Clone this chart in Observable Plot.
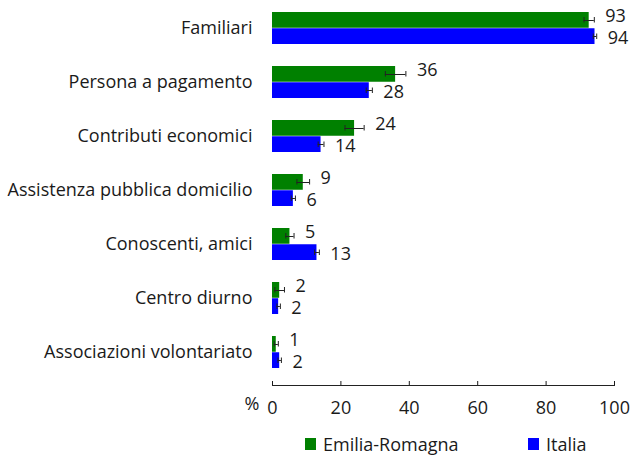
<!DOCTYPE html>
<html>
<head>
<meta charset="utf-8">
<script src="https://cdn.jsdelivr.net/npm/d3@7"></script>
<script src="https://cdn.jsdelivr.net/npm/@observablehq/plot@0.6"></script>
<style>
  html, body { margin: 0; padding: 0; background: #fff; overflow: hidden; }
  #wrap { position: relative; width: 633px; height: 455px; font-family: "Open Sans", sans-serif; color: #1a1a1a; }
  #legend { position: absolute; left: 0; top: 425px; width: 633px; height: 30px; font-size: 18px; line-height: 20px; }
  .item { position: absolute; top: 9px; display: flex; align-items: center; }
  .sw { display: inline-block; width: 11px; height: 12px; margin-right: 7px; }
</style>
</head>
<body>
<div id="wrap">
  <div id="chart"></div>
  <div id="legend"></div>
</div>
<script>
const categories = ["Familiari", "Persona a pagamento", "Contributi economici", "Assistenza pubblica domicilio", "Conoscenti, amici", "Centro diurno", "Associazioni volontariato"];
const seriesNames = ["Emilia-Romagna", "Italia"];
const colors = ["#008000", "#0000ff"];
const valuesER = [92.6, 36.0, 24.0, 9.0, 5.1, 2.1, 1.1];
const valuesIT = [94.3, 28.3, 14.2, 6.1, 13.0, 1.8, 2.1];
const errER = [1.5, 3.0, 2.8, 1.85, 1.2, 1.4, 0.6];
const errIT = [0.5, 0.9, 0.85, 0.6, 0.7, 0.5, 0.5];
const xTicks = [0, 20, 40, 60, 80, 100];

const er = categories.map((c, i) => ({cat: c, v: valuesER[i], e: errER[i]}));
const it = categories.map((c, i) => ({cat: c, v: valuesIT[i], e: errIT[i]}));

const W = 633, H = 425;
const half = 16.25;
const font = "'Open Sans', sans-serif";
const fs = 18;

const chart = Plot.plot({
  width: W,
  height: H,
  marginLeft: 272,
  marginRight: 19,
  marginTop: 0,
  marginBottom: 40,
  style: {fontFamily: font, fontSize: fs + "px", color: "#1a1a1a", background: "#fff"},
  x: {domain: [0, 100], ticks: xTicks},
  y: {domain: categories, paddingInner: 0.4, paddingOuter: 0.25, align: 0.43},
  marks: [
    Plot.barX(er, {x: "v", y: "cat", fill: colors[0], insetBottom: half, insetTop: 0}),
    Plot.barX(it, {x: "v", y: "cat", fill: colors[1], insetTop: half, insetBottom: 0}),
    Plot.ruleY(er, {y: "cat", x1: d => d.v - d.e, x2: d => d.v + d.e, dy: -8, stroke: "#222", strokeWidth: 1}),
    Plot.ruleY(it, {y: "cat", x1: d => d.v - d.e, x2: d => d.v + d.e, dy: 8, stroke: "#222", strokeWidth: 1}),
    Plot.tickX(er, {y: "cat", x: d => d.v - d.e, insetTop: 5, insetBottom: 21.5, stroke: "#222"}),
    Plot.tickX(er, {y: "cat", x: d => d.v + d.e, insetTop: 5, insetBottom: 21.5, stroke: "#222"}),
    Plot.tickX(it, {y: "cat", x: d => d.v - d.e, insetTop: 21.5, insetBottom: 5, stroke: "#222"}),
    Plot.tickX(it, {y: "cat", x: d => d.v + d.e, insetTop: 21.5, insetBottom: 5, stroke: "#222"}),
    Plot.text(er, {y: "cat", x: d => d.v + d.e, text: d => d3.format(".0f")(d.v), dx: 11, dy: -12, textAnchor: "start", fontSize: fs, fill: "#1a1a1a"}),
    Plot.text(it, {y: "cat", x: d => d.v + d.e, text: d => d3.format(".0f")(d.v), dx: 11, dy: 10, textAnchor: "start", fontSize: fs, fill: "#1a1a1a"}),
    Plot.axisY({tickSize: 0, tickPadding: 20, fontSize: fs, label: null}),
    Plot.axisX({ticks: xTicks, tickSize: -4, tickPadding: 20, fontSize: fs, label: null}),
    Plot.frame({anchor: "bottom", stroke: "#222"}),
    Plot.text(["%"], {frameAnchor: "bottom-left", textAnchor: "end", dx: -13, dy: 24, fontSize: fs, fill: "#1a1a1a"})
  ]
});
document.getElementById("chart").appendChild(chart);

const legend = document.getElementById("legend");
const legendX = [305, 528];
seriesNames.forEach((name, i) => {
  const item = document.createElement("div");
  item.className = "item";
  item.style.left = legendX[i] + "px";
  item.innerHTML = `<span class="sw" style="background:${colors[i]}"></span><span>${name}</span>`;
  legend.appendChild(item);
});
</script>
</body>
</html>
